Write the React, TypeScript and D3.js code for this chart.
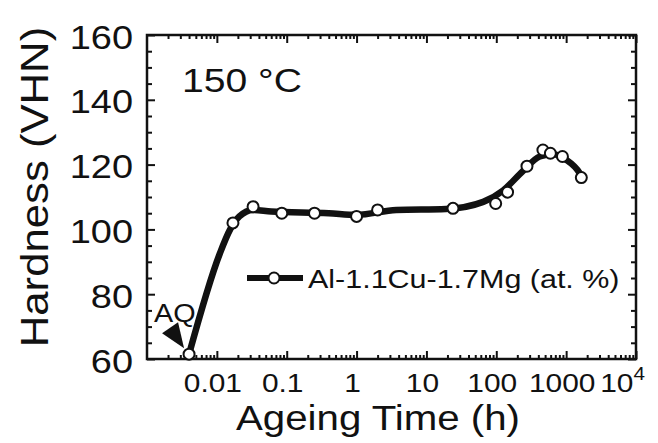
import React, { useEffect, useRef } from 'react';
import * as d3 from 'd3';

// measured hardness points (ageing time in h, hardness in VHN)
const ageingTime = [0.004, 0.017, 0.033, 0.085, 0.25, 1.0, 2.0, 24, 98, 145, 275, 465, 595, 885, 1650];
const hardness = [61.5, 102, 107, 105, 105, 104, 106, 106.5, 108, 111.5, 119.5, 124.5, 123.5, 122.5, 116];

// hand drawn trend line through the points
const fitTime = [0.004, 0.011, 0.0155, 0.021, 0.033, 0.06, 0.4, 1.0, 3.7, 19, 65, 125, 240, 420, 650, 1000, 1550, 1700];
const fitHardness = [61.5, 92.5, 100, 104, 106, 105.5, 105, 104.5, 106, 106.3, 108.5, 112, 118, 122.5, 123.2, 121.5, 117.5, 116];

const yTicks = [60, 80, 100, 120, 140, 160];
const xTicks = [0.01, 0.1, 1, 10, 100, 1000, 10000];
const xTickLabels = ['0.01', '0.1', '1', '10', '100', '1000', '10'];

const FONT = '"Liberation Sans", Arial, Helvetica, sans-serif';
const STRETCH = 1.15; // the scanned figure's lettering is a bit wide

export default function App() {
  const chartRef = useRef<SVGSVGElement>(null);

  useEffect(() => {
    const svg = d3.select(chartRef.current);
    svg.selectAll('*').remove();

    const left = 147, right = 636, top = 35, bottom = 359;

    const x = d3.scaleLog().domain([0.001, 10000]).range([left, right]);
    const y = d3.scaleLinear().domain([60, 160]).range([bottom, top]);

    const minorX: number[] = [];
    for (let e = -3; e < 4; e++) {
      for (let k = 2; k < 10; k++) minorX.push(k * Math.pow(10, e));
    }
    const minorY = d3.range(60, 161, 5).filter(v => v % 20 !== 0);

    const tickStyle = (g: any) => {
      g.select('.domain').remove();
      g.selectAll('text').remove();
      g.selectAll('line').attr('stroke', '#111').attr('stroke-width', 2);
    };

    // ticks on all four sides, pointing inward
    svg.append('g').attr('transform', `translate(0,${bottom})`)
      .call(d3.axisBottom(x).tickValues(xTicks).tickSize(-8)).call(tickStyle);
    svg.append('g').attr('transform', `translate(0,${bottom})`)
      .call(d3.axisBottom(x).tickValues(minorX).tickSize(-4)).call(tickStyle);
    svg.append('g').attr('transform', `translate(0,${top})`)
      .call(d3.axisTop(x).tickValues(xTicks).tickSize(-8)).call(tickStyle);
    svg.append('g').attr('transform', `translate(0,${top})`)
      .call(d3.axisTop(x).tickValues(minorX).tickSize(-4)).call(tickStyle);
    svg.append('g').attr('transform', `translate(${left},0)`)
      .call(d3.axisLeft(y).tickValues(yTicks).tickSize(-8)).call(tickStyle);
    svg.append('g').attr('transform', `translate(${left},0)`)
      .call(d3.axisLeft(y).tickValues(minorY).tickSize(-5)).call(tickStyle);
    svg.append('g').attr('transform', `translate(${right},0)`)
      .call(d3.axisRight(y).tickValues(yTicks).tickSize(-8)).call(tickStyle);
    svg.append('g').attr('transform', `translate(${right},0)`)
      .call(d3.axisRight(y).tickValues(minorY).tickSize(-5)).call(tickStyle);

    // frame
    svg.append('rect')
      .attr('x', left).attr('y', top)
      .attr('width', right - left).attr('height', bottom - top)
      .attr('fill', 'none').attr('stroke', '#111').attr('stroke-width', 2.5);

    const label = (tx: number, ty: number, size: number, anchor: string, rotate = 0) =>
      svg.append('text')
        .attr('transform', `translate(${tx},${ty})${rotate ? ` rotate(${rotate})` : ''} scale(${STRETCH},1)`)
        .attr('text-anchor', anchor)
        .attr('font-family', FONT)
        .attr('font-size', size)
        .attr('fill', '#111');

    // y tick labels
    yTicks.forEach(v => {
      label(133, y(v) + 2, 33, 'end').attr('dy', '0.35em').text(String(v));
    });

    // x tick labels
    xTicks.forEach((v, i) => {
      if (i === xTicks.length - 1) {
        const t = label(x(v) + 9, 392, 26, 'end');
        t.append('tspan').text(xTickLabels[i]);
        t.append('tspan').attr('font-size', 18).attr('dy', -12).text('4');
      } else {
        label(x(v) - 4, 392, 26, 'middle').text(xTickLabels[i]);
      }
    });

    // axis titles
    label(378, 430, 35, 'middle').text('Ageing Time (h)');
    label(48, 187, 38, 'middle', -90).text('Hardness (VHN)');

    // temperature
    label(182, 92, 34, 'start').text('150 °C');

    // trend line
    const line = d3.line<number>()
      .x(i => x(fitTime[i]))
      .y(i => y(fitHardness[i]))
      .curve(d3.curveMonotoneX);
    svg.append('path')
      .attr('d', line(d3.range(fitTime.length)))
      .attr('fill', 'none')
      .attr('stroke', '#111')
      .attr('stroke-width', 6.5)
      .attr('stroke-linejoin', 'round')
      .attr('stroke-linecap', 'round');

    // measured points
    svg.append('g').selectAll('circle')
      .data(d3.range(ageingTime.length))
      .join('circle')
      .attr('cx', i => x(ageingTime[i]))
      .attr('cy', i => y(hardness[i]))
      .attr('r', 5.5)
      .attr('fill', '#fff')
      .attr('stroke', '#111')
      .attr('stroke-width', 2);

    // AQ (as-quenched) annotation
    const aqX = x(ageingTime[0]);
    const aqY = y(hardness[0]);
    svg.append('path')
      .attr('d', `M${aqX - 5},${aqY - 6} L${aqX - 27},${aqY - 21} L${aqX - 11},${aqY - 32} Z`)
      .attr('fill', '#111');
    label(aqX - 35, aqY - 32, 25, 'start').text('AQ');

    // legend
    const lgY = 278;
    svg.append('line')
      .attr('x1', 247).attr('x2', 303).attr('y1', lgY).attr('y2', lgY)
      .attr('stroke', '#111').attr('stroke-width', 6);
    svg.append('circle')
      .attr('cx', 274).attr('cy', lgY).attr('r', 5.5)
      .attr('fill', '#fff').attr('stroke', '#111').attr('stroke-width', 2);
    label(308, 288, 26.5, 'start').text('Al-1.1Cu-1.7Mg (at. %)');
  }, []);

  return (
    <svg
      ref={chartRef}
      width={658}
      height={443}
      style={{ position: 'absolute', left: 0, top: 0, background: '#fff' }}
    />
  );
}
